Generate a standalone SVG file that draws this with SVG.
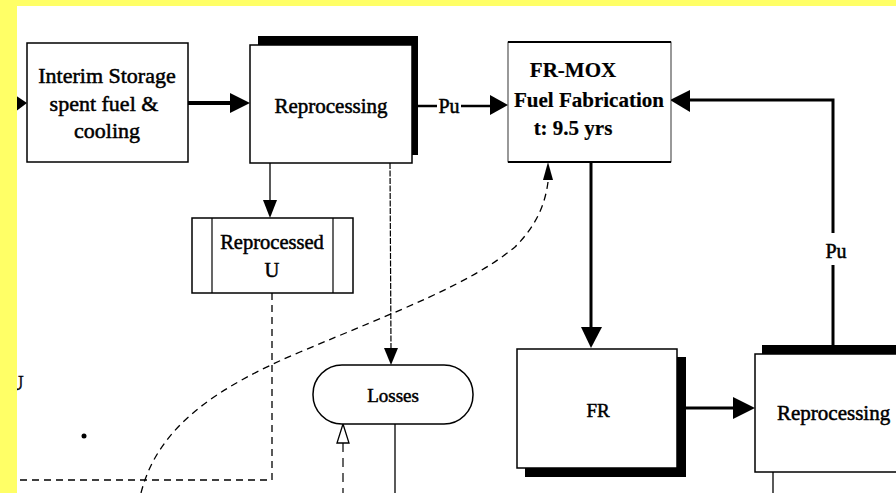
<svg xmlns="http://www.w3.org/2000/svg" width="896" height="493" viewBox="0 0 896 493">
<style>
.t{font-family:"Liberation Serif","Times New Roman",serif;font-size:21px;fill:#000;stroke:#000;stroke-width:0.5;text-anchor:middle;dominant-baseline:central}
.box{fill:#fff;stroke:#000;stroke-width:1.5}
.sh{fill:#000}
.ln{fill:none;stroke:#000}
.dash{fill:none;stroke:#000;stroke-width:1.3;stroke-dasharray:7 5}
.ah{fill:#000}
</style>
<rect x="0" y="0" width="896" height="493" fill="#fff"/>
<g id="connectors">
  <polygon class="ah" points="27,103 15,95 15,112"/>
  <line class="ln" x1="188" y1="103" x2="232" y2="103" stroke-width="4"/>
  <polygon class="ah" points="250,103 230,93 230,113"/>
  <line class="ln" x1="418" y1="106" x2="437" y2="106" stroke-width="2.5"/>
  <text class="t" x="449" y="106" style="font-size:20px">Pu</text>
  <line class="ln" x1="461" y1="106" x2="492" y2="106" stroke-width="2.5"/>
  <polygon class="ah" points="508,105 490,95 490,115"/>
  <line class="ln" x1="270" y1="163" x2="270" y2="202" stroke-width="1.3"/>
  <polygon class="ah" points="270,218 263,200 277,200"/>
  <line class="ln" x1="390" y1="163" x2="391" y2="350" stroke-width="1.2" stroke-dasharray="6 1.5"/>
  <polygon class="ah" points="391,365 384,348 398,348"/>
  <line class="ln" x1="591" y1="162" x2="591" y2="330" stroke-width="3"/>
  <polygon class="ah" points="591,348 581,327 602,327"/>
  <line class="ln" x1="686" y1="408" x2="735" y2="408" stroke-width="3"/>
  <polygon class="ah" points="755,408 733,397 733,419"/>
  <polyline class="ln" points="833,345 833,265" stroke-width="3"/>
  <text class="t" x="836" y="251" style="font-size:20px">Pu</text>
  <polyline class="ln" points="833,233 833,100 688,100" stroke-width="3"/>
  <polygon class="ah" points="670,100 690,90 690,112"/>
  <polyline class="dash" points="272,293 272,480 17,480"/>
  <path class="dash" d="M141,493 C158,425 220,386 300,352 C400,310 470,284 515,247 C536,226 545,205 548,182"/>
  <polygon class="ah" points="548,162 543,180 553,180"/>
  <polygon points="343,424 337,443 349,443" fill="#fff" stroke="#000" stroke-width="1.3"/>
  <line class="ln" x1="343" y1="443" x2="343" y2="493" stroke-width="1.2" stroke-dasharray="9 6"/>
  <line class="ln" x1="395" y1="424" x2="395" y2="493" stroke-width="1.3"/>
  <line class="ln" x1="773" y1="472" x2="773" y2="493" stroke-width="1.3"/>
</g>
<g id="interim-storage">
  <rect class="box" x="27" y="43" width="161" height="119"/>
  <text class="t" x="107" y="75" style="font-size:22px">Interim Storage</text>
  <text class="t" x="104" y="103" style="font-size:22px">spent fuel &amp;</text>
  <text class="t" x="107" y="130" style="font-size:22px">cooling</text>
</g>
<g id="reprocessing-1">
  <rect class="sh" x="258" y="36" width="160" height="119"/>
  <rect class="box" x="250" y="45" width="162" height="118"/>
  <text class="t" x="331" y="106">Reprocessing</text>
</g>
<g id="fr-mox">
  <rect x="508" y="42" width="163" height="120" fill="#fff" stroke="#000" stroke-width="0.8"/>
  <line class="ln" x1="508" y1="42" x2="671" y2="42" stroke-width="1.8"/>
  <line class="ln" x1="508" y1="162" x2="671" y2="162" stroke-width="2.2"/>
  <text class="t" x="573" y="70" style="font-weight:bold;stroke-width:0.2">FR-MOX</text>
  <text class="t" x="589" y="100" style="font-weight:bold;stroke-width:0.2">Fuel Fabrication</text>
  <text class="t" x="573" y="128" style="font-weight:bold;stroke-width:0.2">t: 9.5 yrs</text>
</g>
<g id="reprocessed-u">
  <rect class="box" x="192" y="218" width="161" height="75"/>
  <line class="ln" x1="212" y1="218" x2="212" y2="293" stroke-width="1.2"/>
  <line class="ln" x1="333" y1="218" x2="333" y2="293" stroke-width="1.2"/>
  <text class="t" x="272" y="242" style="font-size:20.5px">Reprocessed</text>
  <text class="t" x="272" y="270" style="font-size:20.5px">U</text>
</g>
<g id="losses">
  <rect class="box" x="313" y="365" width="160" height="59" rx="29" ry="29"/>
  <text class="t" x="393" y="395" style="font-size:19px">Losses</text>
</g>
<g id="fr">
  <rect class="sh" x="525" y="357" width="161" height="120"/>
  <rect class="box" x="517" y="349" width="160" height="119"/>
  <text class="t" x="598" y="410" style="font-size:19px">FR</text>
</g>
<g id="reprocessing-2">
  <rect class="sh" x="762" y="345" width="140" height="119"/>
  <rect class="box" x="755" y="354" width="150" height="118"/>
  <text class="t" x="777" y="413" style="text-anchor:start">Reprocessing</text>
</g>
<g id="stray">
  <text class="t" x="16" y="383">U</text>
  <circle cx="84" cy="436" r="2.5" fill="#000"/>
</g>
<rect x="0" y="0" width="17" height="493" fill="#ffff66"/>
<rect x="0" y="0" width="896" height="6" fill="#ffff66"/>
</svg>
